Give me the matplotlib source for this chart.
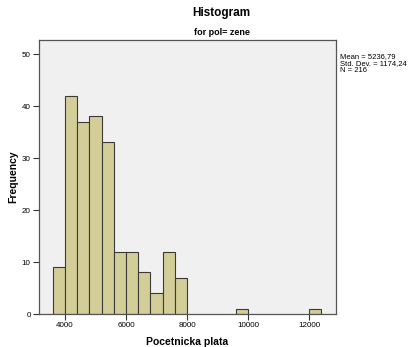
import matplotlib
matplotlib.use("Agg")
import matplotlib.pyplot as plt

plt.rcParams['font.family'] = ['Liberation Sans', 'DejaVu Sans']

# histogram bins (left edges, width 400) and counts
bin_left = [3600, 4000, 4400, 4800, 5200, 5600, 6000, 6400, 6800, 7200, 7600, 9600, 12000]
counts = [9, 42, 37, 38, 33, 12, 12, 8, 4, 12, 7, 1, 1]
bin_width = 400

x_ticks = [4000, 6000, 8000, 10000, 12000]
y_ticks = [0, 10, 20, 30, 40, 50]

stats_text = "Mean = 5236,79\nStd. Dev. = 1174,24\nN = 216"

fig = plt.figure(figsize=(4.1, 3.47), dpi=100)
ax = fig.add_axes([0.0951, 0.0951, 0.7244, 0.7896])
ax.set_facecolor('#f0f0f0')

ax.bar(bin_left, counts, width=bin_width, align='edge',
       color='#d3ce98', edgecolor='#3a3a3a', linewidth=0.8)

ax.set_xlim(3150, 12885)
ax.set_ylim(0, 52.7)
ax.set_xticks(x_ticks)
ax.set_yticks(y_ticks)
ax.tick_params(direction='out', length=4, width=0.8, colors='#333333',
               labelsize=5.8, labelcolor='black', pad=2)
for s in ax.spines.values():
    s.set_color('#555555')
    s.set_linewidth(0.9)

ax.set_xlabel("Pocetnicka plata", fontsize=7.5, fontweight='bold')
ax.xaxis.set_label_coords(0.5, -0.085)
ax.set_ylabel("Frequency", fontsize=7.5, fontweight='bold')
ax.yaxis.set_label_coords(-0.07, 0.5)

fig.text(0.541, 0.962, "Histogram", ha='center', va='center', fontsize=8.5, fontweight='bold')
fig.text(0.541, 0.907, "for pol= zene", ha='center', va='center', fontsize=6.5, fontweight='bold')
fig.text(0.829, 0.848, stats_text, ha='left', va='top', fontsize=5.5, linespacing=1.0)

fig.savefig("out.png", dpi=100)
